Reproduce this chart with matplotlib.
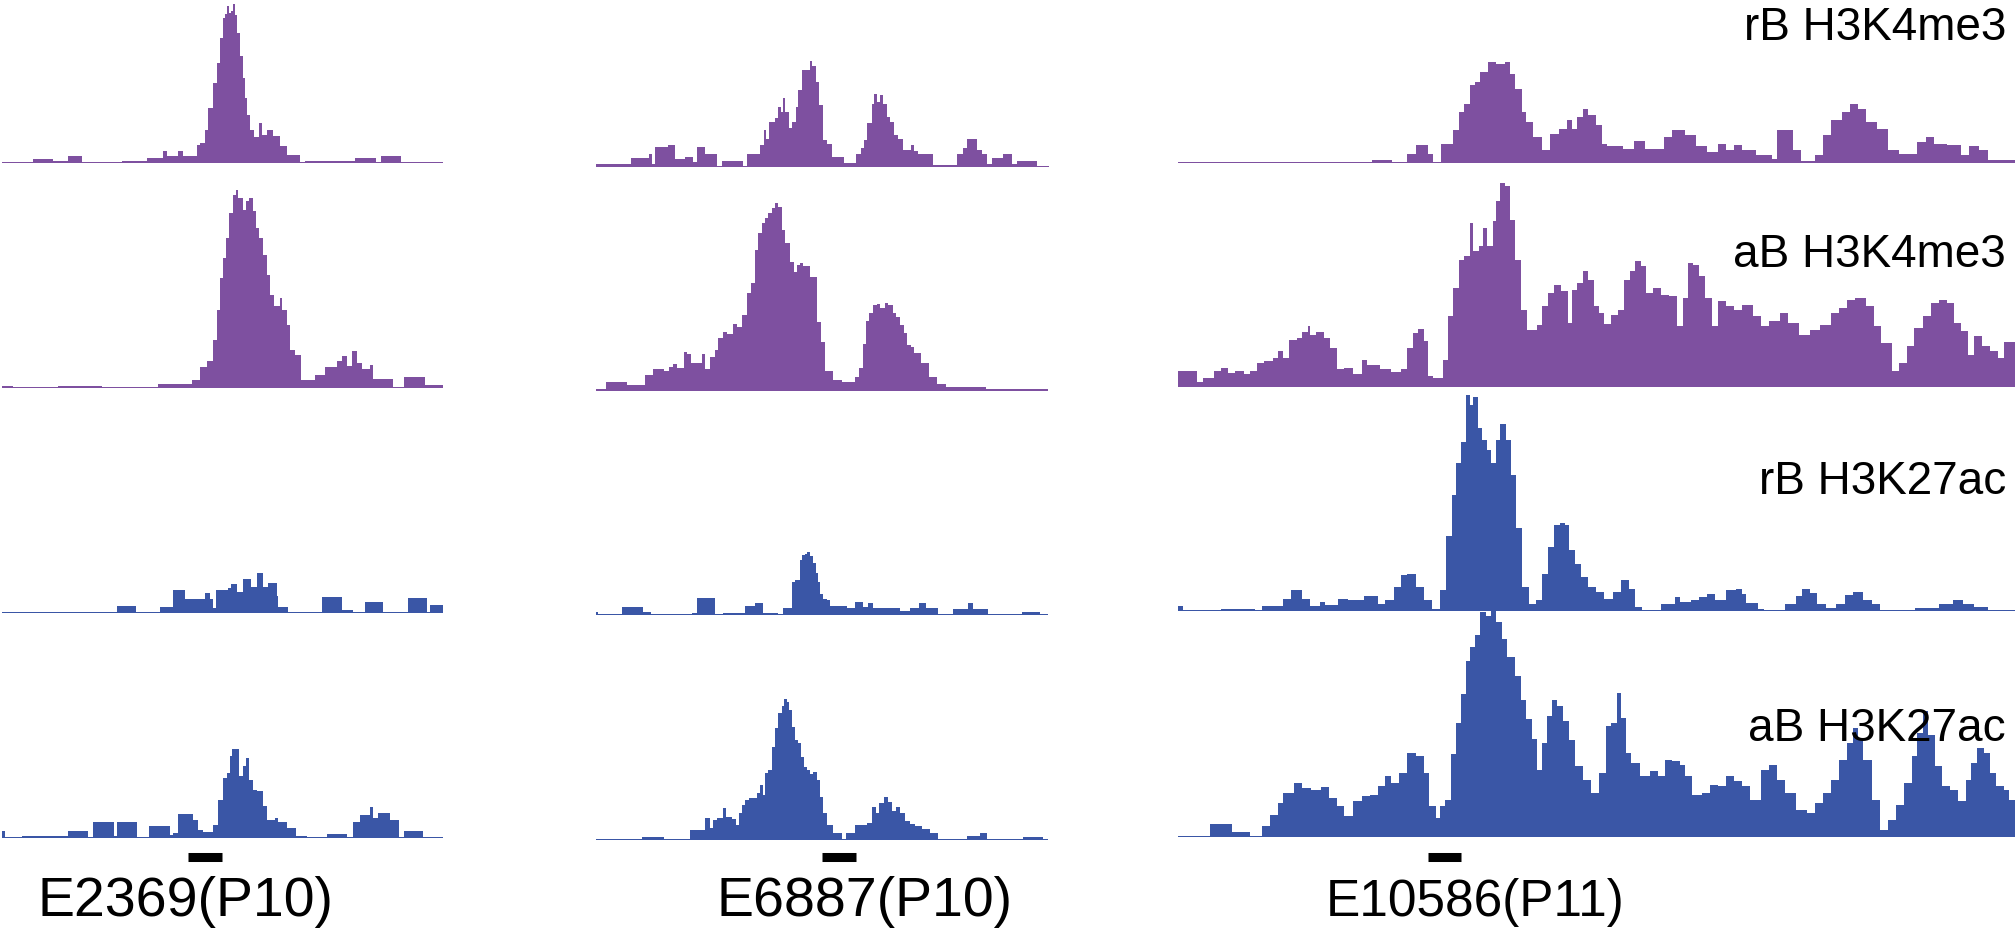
import numpy as np
import matplotlib.pyplot as plt
from matplotlib.transforms import blended_transform_factory

W, H = 2016, 936
PURPLE = '#7e50a0'
BLUE = '#3a56a6'

# ---- column 1: E2369(P10) ----
c1_rb_k4_x = [5, 100, 160, 205, 245, 365, 440, 490, 500, 535, 548, 590, 600, 615, 625, 640, 652, 660, 668, 675,
              680, 686, 692, 698, 705, 712, 720, 728, 735, 742, 750, 762, 778, 785, 800, 820, 840, 860, 900, 915,
              1065, 1128, 1143, 1203, 1330]
c1_rb_k4_y = [2, 12, 5, 22, 2, 6, 16, 37, 22, 37, 22, 55, 60, 100, 165, 240, 300, 375, 435, 448,
              470, 450, 455, 478, 445, 390, 320, 255, 195, 145, 100, 77, 120, 85, 100, 80, 50, 23, 2, 6,
              16, 2, 22, 2]
c1_ab_k4_x = [5, 40, 175, 305, 475, 575, 600, 620, 640, 650, 660, 670, 678, 688, 698, 708, 715, 728, 738, 748,
              758, 768, 778, 788, 800, 810, 822, 840, 845, 860, 870, 885, 903, 945, 975, 1010, 1025, 1040, 1055,
              1070, 1085, 1110, 1120, 1180, 1212, 1275, 1330]
c1_ab_k4_y = [7, 3, 7, 4, 12, 25, 62, 80, 145, 235, 330, 390, 450, 525, 580, 595, 570, 535, 560, 570,
              530, 480, 450, 400, 340, 280, 245, 270, 235, 190, 115, 100, 25, 40, 63, 80, 95, 65, 112,
              75, 58, 68, 28, 3, 32, 10]
c1_rb_k27_x = [5, 65, 350, 408, 480, 520, 555, 615, 630, 640, 648, 685, 692, 712, 730, 752, 770, 790, 805, 830,
               835, 865, 965, 1025, 1060, 1095, 1150, 1225, 1280, 1290, 1330]
c1_rb_k27_y = [4, 2, 21, 2, 19, 69, 42, 61, 42, 15, 69, 74, 87, 62, 101, 79, 121, 79, 91, 50,
               19, 2, 49, 9, 2, 34, 2, 44, 2, 24]
c1_ab_k27_x = [5, 15, 65, 205, 265, 280, 342, 352, 410, 448, 510, 520, 535, 580, 595, 610, 640, 655, 668, 680,
               690, 697, 718, 728, 738, 748, 760, 770, 790, 800, 825, 835, 860, 888, 920, 980, 1040, 1058, 1080,
               1110, 1118, 1135, 1170, 1198, 1212, 1270, 1330]
c1_ab_k27_y = [22, 2, 7, 22, 3, 47, 5, 47, 3, 37, 10, 15, 72, 55, 25, 18, 40, 115, 180, 195,
               245, 267, 185, 215, 240, 175, 145, 140, 95, 55, 60, 47, 30, 7, 2, 12, 2, 47, 70,
               93, 60, 75, 53, 2, 22, 2]

# ---- column 2: E6887(P10) ----
c2_rb_k4_x = [18, 122, 178, 186, 195, 235, 255, 285, 310, 322, 345, 380, 397, 458, 470, 510, 522, 528, 538, 555,
              565, 572, 578, 585, 597, 605, 618, 625, 637, 648, 660, 667, 678, 688, 698, 710, 725, 762, 797, 812,
              822, 832, 845, 853, 860, 870, 880, 890, 900, 912, 925, 938, 962, 972, 985, 1030, 1100, 1118, 1130,
              1160, 1175, 1190, 1205, 1240, 1265, 1280, 1340, 1378]
c2_rb_k4_y = [10, 27, 38, 10, 60, 65, 25, 30, 15, 60, 40, 2, 17, 2, 38, 65, 112, 85, 135, 148,
              180, 165, 208, 165, 118, 135, 180, 232, 290, 290, 318, 302, 255, 185, 82, 70, 30, 12, 40, 58,
              80, 132, 190, 220, 195, 215, 190, 150, 135, 95, 85, 52, 65, 47, 38, 5, 40, 58, 83,
              50, 38, 10, 27, 38, 10, 18, 4]
c2_ab_k4_x = [18, 48, 112, 165, 190, 222, 238, 250, 260, 282, 292, 302, 335, 345, 360, 375, 385, 398, 410, 428,
              442, 455, 470, 482, 495, 505, 515, 525, 535, 545, 555, 565, 575, 585, 600, 612, 620, 630, 640, 660,
              680, 692, 705, 728, 755, 795, 808, 818, 828, 838, 848, 860, 870, 885, 895, 908, 918, 930, 942, 952,
              962, 972, 992, 1018, 1040, 1068, 1188, 1375]
c2_ab_k4_y = [6, 27, 17, 48, 66, 60, 73, 81, 70, 117, 110, 83, 111, 65, 103, 123, 160, 178, 171, 201,
              193, 228, 293, 323, 423, 475, 503, 518, 535, 548, 563, 551, 483, 443, 388, 358, 378, 385, 375, 341,
              208, 148, 60, 33, 27, 41, 68, 141, 211, 233, 258, 261, 248, 263, 258, 235, 223, 198, 175, 138,
              133, 113, 83, 41, 21, 11, 5]
c2_rb_k27_x = [18, 25, 97, 158, 182, 305, 320, 375, 400, 465, 495, 520, 565, 578, 605, 615, 630, 637, 645, 652,
               660, 668, 678, 685, 690, 700, 712, 720, 770, 795, 820, 835, 850, 930, 960, 988, 1008, 1045, 1088,
               1135, 1150, 1195, 1295, 1350, 1375]
c2_rb_k27_y = [8, 2, 23, 10, 2, 5, 50, 2, 7, 27, 37, 7, 2, 20, 100, 105, 165, 180, 183, 190,
               177, 155, 125, 100, 62, 47, 45, 27, 20, 40, 25, 37, 20, 12, 20, 37, 20, 2, 17,
               37, 17, 3, 10, 3]
c2_ab_k27_x = [18, 155, 222, 300, 345, 360, 368, 380, 400, 408, 425, 438, 448, 455, 465, 478, 500, 510, 518, 525,
               535, 545, 555, 565, 575, 583, 590, 598, 605, 615, 625, 632, 642, 652, 660, 668, 680, 690, 700, 712,
               730, 755, 768, 795, 830, 845, 858, 868, 882, 895, 905, 918, 930, 945, 960, 975, 995, 1020, 1045,
               1130, 1170, 1192, 1298, 1360, 1375]
c2_ab_k27_y = [2, 8, 2, 30, 65, 35, 60, 67, 95, 70, 63, 45, 80, 105, 120, 125, 142, 165, 135, 200,
               210, 280, 335, 380, 402, 422, 415, 390, 340, 300, 290, 250, 220, 210, 198, 205, 180, 130, 80, 45,
               20, 2, 20, 44, 50, 98, 80, 110, 130, 115, 88, 98, 80, 58, 48, 42, 32, 22, 3,
               12, 22, 2, 10, 2]

# ---- column 3: E10586(P11) ----
c3_rb_k4_x = [15, 375, 412, 440, 455, 478, 488, 502, 525, 535, 545, 555, 565, 575, 590, 605, 620, 630, 640, 652,
              660, 672, 690, 705, 720, 735, 745, 755, 765, 775, 790, 800, 810, 840, 860, 880, 915, 930, 955, 975,
              995, 1015, 1030, 1045, 1060, 1085, 1115, 1125, 1155, 1170, 1195, 1210, 1225, 1245, 1260, 1275,
              1290, 1310, 1330, 1350, 1385, 1400, 1415, 1440, 1465, 1480, 1500, 1515, 1565]
c3_rb_k4_y = [2, 8, 2, 28, 53, 28, 2, 58, 98, 153, 178, 233, 243, 273, 303, 298, 303, 268, 223, 153,
              123, 78, 38, 88, 103, 128, 103, 138, 163, 143, 113, 58, 50, 43, 65, 43, 78, 100, 83, 50,
              33, 56, 38, 53, 40, 25, 13, 98, 38, 6, 23, 83, 128, 153, 178, 163,
              123, 103, 38, 26, 63, 78, 58, 53, 23, 50, 40, 8]
c3_ab_k4_x = [15, 50, 62, 82, 95, 108, 120, 138, 148, 162, 175, 190, 200, 210, 220, 235, 245, 255, 260, 270,
              285, 297, 310, 322, 340, 355, 365, 390, 410, 428, 440, 450, 460, 470, 478, 488, 505, 515, 525, 535,
              545, 555, 562, 572, 580, 588, 598, 605, 612, 620, 630, 640, 650, 662, 680, 690, 700, 712, 725, 738,
              745, 755, 765, 775, 785, 795, 805, 818, 830, 842, 852, 862, 872, 882, 895, 910, 925, 940, 950, 960,
              970, 980, 992, 1005, 1015, 1030, 1045, 1060, 1080, 1095, 1110, 1130, 1145, 1165, 1185, 1205, 1225,
              1240, 1255, 1270, 1290, 1305, 1318, 1338, 1350, 1365, 1378, 1395, 1410, 1425, 1440, 1452, 1465,
              1478, 1490, 1505, 1520, 1535, 1545, 1565]
c3_ab_k4_y = [47, 14, 27, 47, 57, 42, 47, 40, 49, 72, 77, 87, 107, 87, 140, 147, 164, 182, 157, 164,
              147, 117, 54, 57, 40, 82, 66, 55, 44, 54, 117, 162, 174, 137, 32, 27, 82, 212, 297, 382,
              394, 492, 407, 422, 477, 422, 497, 557, 612, 602, 502, 382, 232, 170, 187, 242, 282, 307, 287, 192,
              290, 312, 347, 322, 242, 222, 190, 217, 232, 322, 347, 377, 362, 282, 297, 277, 272, 182, 267, 372,
              367, 332, 267, 182, 257, 242, 232, 247, 212, 182, 197, 222, 192, 157, 172, 187, 222,
              237, 262, 267, 242, 182, 132, 47, 72, 122, 177, 212, 252, 262, 252, 192, 167,
              97, 152, 122, 107, 87, 134]
c3_rb_k27_x = [15, 25, 95, 158, 170, 210, 225, 245, 260, 278, 288, 312, 330, 360, 385, 398, 415, 428, 440, 455,
               470, 485, 500, 512, 522, 530, 540, 548, 555, 562, 570, 578, 588, 595, 605, 612, 622, 632, 642, 652,
               665, 678, 690, 700, 712, 722, 732, 740, 750, 762, 775, 790, 805, 820, 835, 850, 862, 875, 910, 935,
               945, 965, 980, 995, 1010, 1030, 1048, 1060, 1068, 1090, 1100, 1140, 1160, 1172, 1185, 1198, 1215,
               1235, 1250, 1265, 1285, 1300, 1315, 1380, 1425, 1450, 1470, 1490, 1515, 1565]
c3_rb_k27_y = [14, 2, 7, 2, 14, 37, 62, 37, 14, 28, 17, 35, 32, 44, 20, 32, 72, 107, 112, 72,
               32, 7, 62, 224, 347, 445, 507, 648, 617, 642, 550, 513, 482, 445, 513, 562, 513, 408, 248, 72,
               22, 34, 112, 192, 257, 264, 257, 182, 142, 102, 72, 57, 37, 57, 92, 67, 12, 4, 20, 42,
               27, 32, 42, 50, 32, 64, 67, 52, 24, 7, 2, 20, 44, 67, 54, 22, 10,
               20, 47, 57, 32, 20, 2, 10, 20, 32, 22, 12, 2]
c3_ab_k27_x = [15, 75, 115, 148, 170, 185, 200, 210, 230, 245, 262, 280, 295, 310, 322, 340, 355, 370, 385, 398,
               410, 425, 440, 455, 470, 480, 492, 500, 510, 520, 530, 540, 548, 556, 565, 575, 585, 595, 605, 615,
               625, 640, 650, 660, 670, 680, 690, 698, 708, 718, 728, 740, 750, 765, 780, 795, 808, 818, 828, 835,
               845, 855, 870, 890, 905, 918, 930, 945, 955, 968, 985, 1000, 1015, 1030, 1045, 1060, 1075, 1095,
               1110, 1125, 1140, 1160, 1180, 1195, 1210, 1225, 1240, 1255, 1265, 1275, 1285, 1300, 1315, 1330,
               1345, 1360, 1375, 1385, 1395, 1405, 1418, 1430, 1445, 1460, 1475, 1485, 1495, 1508, 1520, 1530,
               1545, 1555, 1565]
c3_ab_k27_y = [4, 40, 14, 2, 32, 67, 102, 132, 162, 147, 142, 150, 117, 92, 62, 107, 122, 127, 152, 182,
               162, 192, 252, 242, 192, 92, 57, 92, 112, 248, 342, 429, 529, 570, 605, 675, 663, 698, 646, 593,
               541, 482, 412, 353, 295, 202, 282, 362, 412, 392, 347, 292, 212, 172, 132, 192, 332, 342, 432,
               357, 252, 222, 182, 197, 182, 232, 227, 217, 182, 127, 132, 157, 152, 182, 167, 152, 112,
               202, 217, 172, 132, 82, 72, 102, 132, 172, 232, 282, 327, 292, 232, 112, 22,
               52, 97, 162, 242, 312, 377, 307, 212, 152, 142, 107, 172, 222, 267, 252, 192,
               152, 142, 112]

labels = ['rB H3K4me3', 'aB H3K4me3', 'rB H3K27ac', 'aB H3K27ac']
regions = ['E2369(P10)', 'E6887(P10)', 'E10586(P11)']
enh_x = [(565, 665), (697, 798), (478, 540)]

cols = [
    [(c1_rb_k4_x, c1_rb_k4_y), (c1_ab_k4_x, c1_ab_k4_y), (c1_rb_k27_x, c1_rb_k27_y), (c1_ab_k27_x, c1_ab_k27_y)],
    [(c2_rb_k4_x, c2_rb_k4_y), (c2_ab_k4_x, c2_ab_k4_y), (c2_rb_k27_x, c2_rb_k27_y), (c2_ab_k27_x, c2_ab_k27_y)],
    [(c3_rb_k4_x, c3_rb_k4_y), (c3_ab_k4_x, c3_ab_k4_y), (c3_rb_k27_x, c3_rb_k27_y), (c3_ab_k27_x, c3_ab_k27_y)],
]
colors = [PURPLE, PURPLE, BLUE, BLUE]

# layout in pixels: (left px, right px, xmax data), baselines per row
col_pos = [(0, 1330 / 3, 1330), (590, 590 + 1378 / 3, 1378), (1170, 1170 + 1565 / 1.853, 1565)]
col_base = [[163, 388, 613, 838], [167, 391, 615, 840], [163, 387, 611, 837]]
unit = 3.0  # signal units per pixel

fig = plt.figure(figsize=(W / 100, H / 100), dpi=100)

for c, tracks in enumerate(cols):
    left, right, xmax = col_pos[c]
    for r, (xs, ys) in enumerate(tracks):
        base = col_base[c][r]
        ax = fig.add_axes([left / W, 1 - base / H, (right - left) / W, 250 / H])
        ax.set_xlim(0, xmax)
        ax.set_ylim(0, 250 * unit)
        ax.axis('off')
        ax.patch.set_alpha(0)
        xs = np.asarray(xs, float)
        ys = np.asarray(ys, float)
        ax.fill_between(xs, np.append(ys, ys[-1]), step='post', color=colors[r], linewidth=0)
        ax.plot([xs[0], xs[-1]], [0, 0], color=colors[r], linewidth=1.2, solid_capstyle='butt')
        if r == 3:
            tr = blended_transform_factory(ax.transData, fig.transFigure)
            x0, x1 = enh_x[c]
            ax.plot([x0, x1], [1 - 857 / H] * 2, color='black', linewidth=6.5,
                    solid_capstyle='butt', transform=tr, clip_on=False)

# region names under the enhancer bars
region_cx = [186, 865, 1475]
region_fs = [40, 40, 37]
for c, name in enumerate(regions):
    fig.text(region_cx[c] / W, 1 - 916 / H, name, ha='center', va='baseline',
             fontsize=region_fs[c], family='Liberation Sans')

label_y = [28, 255, 482, 729]
for r, lab in enumerate(labels):
    fig.text(2006 / W, 1 - label_y[r] / H, lab, ha='right', va='center', fontsize=33,
             family='Liberation Sans')

fig.savefig('out.png', dpi=100, facecolor='white')
